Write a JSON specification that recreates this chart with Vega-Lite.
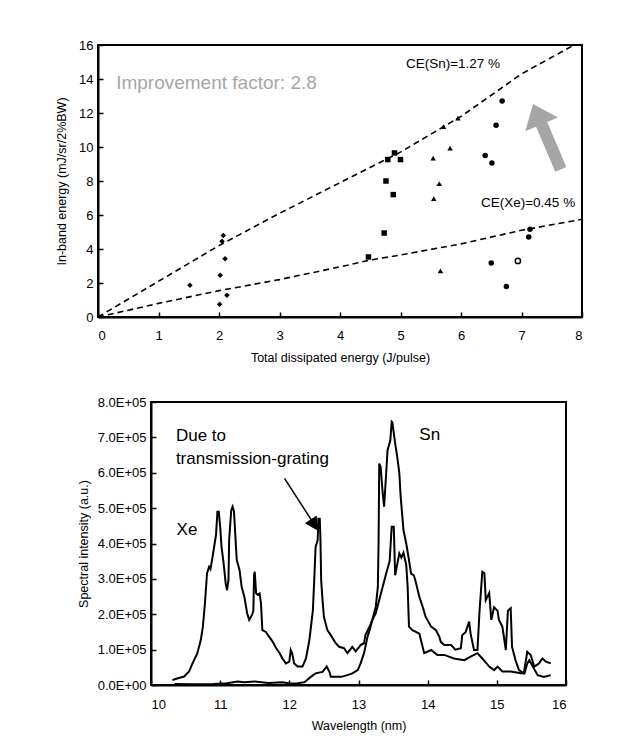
{
  "$schema": "https://vega.github.io/schema/vega-lite/v6.json",
  "background": "white",
  "padding": {"left": 54, "top": 38, "right": 5, "bottom": 5},
  "config": {
    "font": "Liberation Sans",
    "view": {"stroke": "black", "strokeWidth": 2},
    "axis": {"grid": false, "domainColor": "black", "domainWidth": 2, "tickColor": "black", "tickWidth": 1.5, "tickSize": -5, "labelColor": "black", "labelFontSize": 13, "titleFontSize": 12.5, "titleFontWeight": "normal", "titleColor": "black", "labelFont": "Liberation Sans", "titleFont": "Liberation Sans"}
  },
  "datasets": {
    "snfit": [{"x": 0, "y": 0}, {"x": 1, "y": 2.1}, {"x": 2, "y": 4.2}, {"x": 3, "y": 6.1}, {"x": 4, "y": 7.9}, {"x": 5, "y": 9.7}, {"x": 6, "y": 11.8}, {"x": 7, "y": 14.3}, {"x": 7.87, "y": 16}],
    "xefit": [{"x": 0, "y": 0}, {"x": 1, "y": 0.8}, {"x": 2, "y": 1.55}, {"x": 3, "y": 2.2}, {"x": 4, "y": 2.95}, {"x": 4.5, "y": 3.35}, {"x": 5, "y": 3.65}, {"x": 6, "y": 4.3}, {"x": 7, "y": 5.1}, {"x": 8, "y": 5.75}],
    "pts": [
      {"x": 1.52, "y": 1.87, "s": "diamond"}, {"x": 2.02, "y": 2.45, "s": "diamond"}, {"x": 2.01, "y": 0.75, "s": "diamond"}, {"x": 2.13, "y": 1.28, "s": "diamond"}, {"x": 2.1, "y": 3.43, "s": "diamond"}, {"x": 2.07, "y": 4.8, "s": "diamond"}, {"x": 2.05, "y": 4.45, "s": "diamond"},
      {"x": 4.73, "y": 4.94, "s": "square"}, {"x": 4.9, "y": 9.65, "s": "square"}, {"x": 4.76, "y": 8.0, "s": "square"}, {"x": 4.79, "y": 9.26, "s": "square"}, {"x": 5.0, "y": 9.26, "s": "square"}, {"x": 4.88, "y": 7.2, "s": "square"}, {"x": 4.47, "y": 3.53, "s": "square"},
      {"x": 5.55, "y": 6.96, "s": "triangle-up"}, {"x": 5.64, "y": 7.85, "s": "triangle-up"}, {"x": 5.54, "y": 9.35, "s": "triangle-up"}, {"x": 5.82, "y": 9.94, "s": "triangle-up"}, {"x": 5.71, "y": 11.2, "s": "triangle-up"}, {"x": 5.95, "y": 11.7, "s": "triangle-up"}, {"x": 5.66, "y": 2.71, "s": "triangle-up"},
      {"x": 6.68, "y": 12.7, "s": "circle"}, {"x": 6.58, "y": 11.28, "s": "circle"}, {"x": 6.4, "y": 9.5, "s": "circle"}, {"x": 6.51, "y": 9.06, "s": "circle"}, {"x": 6.5, "y": 3.18, "s": "circle"}, {"x": 6.75, "y": 1.8, "s": "circle"}, {"x": 7.14, "y": 5.16, "s": "circle"}, {"x": 7.12, "y": 4.7, "s": "circle"}
    ],
    "xe": [
      {"w": 10.31, "i": 14000}, {"w": 10.39, "i": 19000}, {"w": 10.48, "i": 24000}, {"w": 10.55, "i": 38000}, {"w": 10.6, "i": 61000}, {"w": 10.67, "i": 90000}, {"w": 10.72, "i": 127000}, {"w": 10.75, "i": 165000}, {"w": 10.78, "i": 231000}, {"w": 10.81, "i": 316000}, {"w": 10.84, "i": 334000}, {"w": 10.86, "i": 328000}, {"w": 10.89, "i": 362000}, {"w": 10.92, "i": 400000}, {"w": 10.94, "i": 424000}, {"w": 10.96, "i": 490000}, {"w": 10.98, "i": 490000}, {"w": 11.0, "i": 447000}, {"w": 11.02, "i": 390000}, {"w": 11.05, "i": 344000}, {"w": 11.08, "i": 287000}, {"w": 11.1, "i": 268000}, {"w": 11.12, "i": 297000}, {"w": 11.13, "i": 410000}, {"w": 11.16, "i": 494000}, {"w": 11.18, "i": 504000}, {"w": 11.2, "i": 490000}, {"w": 11.22, "i": 419000}, {"w": 11.24, "i": 353000}, {"w": 11.28, "i": 325000}, {"w": 11.31, "i": 278000}, {"w": 11.35, "i": 249000}, {"w": 11.39, "i": 203000}, {"w": 11.42, "i": 184000}, {"w": 11.46, "i": 198000}, {"w": 11.48, "i": 210000}, {"w": 11.49, "i": 310000}, {"w": 11.5, "i": 320000}, {"w": 11.52, "i": 259000}, {"w": 11.54, "i": 255000}, {"w": 11.57, "i": 259000}, {"w": 11.59, "i": 231000}, {"w": 11.61, "i": 155000}, {"w": 11.66, "i": 150000}, {"w": 11.71, "i": 136000}, {"w": 11.76, "i": 122000}, {"w": 11.81, "i": 104000}, {"w": 11.86, "i": 90000}, {"w": 11.9, "i": 75000}, {"w": 11.95, "i": 61000}, {"w": 12.0, "i": 66000}, {"w": 12.02, "i": 99000}, {"w": 12.04, "i": 90000}, {"w": 12.07, "i": 61000}, {"w": 12.12, "i": 52000}, {"w": 12.19, "i": 52000}, {"w": 12.24, "i": 75000}, {"w": 12.29, "i": 127000}, {"w": 12.34, "i": 210000}, {"w": 12.36, "i": 297000}, {"w": 12.38, "i": 390000}, {"w": 12.41, "i": 410000}, {"w": 12.42, "i": 470000}, {"w": 12.44, "i": 470000}, {"w": 12.45, "i": 410000}, {"w": 12.46, "i": 297000}, {"w": 12.48, "i": 240000}, {"w": 12.5, "i": 193000}, {"w": 12.55, "i": 155000}, {"w": 12.6, "i": 141000}, {"w": 12.67, "i": 118000}, {"w": 12.72, "i": 108000}, {"w": 12.79, "i": 104000}, {"w": 12.84, "i": 90000}, {"w": 12.91, "i": 108000}, {"w": 12.96, "i": 95000}, {"w": 13.03, "i": 113000}, {"w": 13.08, "i": 118000}, {"w": 13.1, "i": 141000}, {"w": 13.16, "i": 165000}, {"w": 13.2, "i": 184000}, {"w": 13.25, "i": 203000}, {"w": 13.3, "i": 240000}, {"w": 13.35, "i": 278000}, {"w": 13.4, "i": 315000}, {"w": 13.45, "i": 350000}, {"w": 13.48, "i": 447000}, {"w": 13.51, "i": 447000}, {"w": 13.53, "i": 310000}, {"w": 13.59, "i": 372000}, {"w": 13.62, "i": 360000}, {"w": 13.65, "i": 374000}, {"w": 13.69, "i": 340000}, {"w": 13.71, "i": 280000}, {"w": 13.73, "i": 165000}, {"w": 13.78, "i": 155000}, {"w": 13.88, "i": 145000}, {"w": 13.95, "i": 90000}, {"w": 14.05, "i": 99000}, {"w": 14.14, "i": 85000}, {"w": 14.24, "i": 85000}, {"w": 14.38, "i": 75000}, {"w": 14.53, "i": 70000}, {"w": 14.62, "i": 80000}, {"w": 14.72, "i": 90000}, {"w": 14.79, "i": 75000}, {"w": 14.89, "i": 52000}, {"w": 14.96, "i": 42000}, {"w": 15.01, "i": 52000}, {"w": 15.08, "i": 38000}, {"w": 15.2, "i": 38000}, {"w": 15.35, "i": 33000}, {"w": 15.4, "i": 33000}, {"w": 15.44, "i": 61000}, {"w": 15.47, "i": 70000}, {"w": 15.52, "i": 52000}, {"w": 15.59, "i": 28000}, {"w": 15.68, "i": 23000}, {"w": 15.78, "i": 28000}
    ],
    "sn": [
      {"w": 10.34, "i": 3000}, {"w": 10.6, "i": 2000}, {"w": 10.9, "i": 3000}, {"w": 11.1, "i": 5000}, {"w": 11.25, "i": 10000}, {"w": 11.35, "i": 8000}, {"w": 11.5, "i": 10000}, {"w": 11.7, "i": 6000}, {"w": 11.9, "i": 8000}, {"w": 12.0, "i": 4000}, {"w": 12.12, "i": 5000}, {"w": 12.22, "i": 8000}, {"w": 12.31, "i": 23000}, {"w": 12.38, "i": 33000}, {"w": 12.48, "i": 37000}, {"w": 12.54, "i": 52000}, {"w": 12.58, "i": 37000}, {"w": 12.6, "i": 23000}, {"w": 12.75, "i": 23000}, {"w": 12.84, "i": 28000}, {"w": 12.91, "i": 33000}, {"w": 12.99, "i": 42000}, {"w": 13.03, "i": 61000}, {"w": 13.08, "i": 90000}, {"w": 13.13, "i": 136000}, {"w": 13.16, "i": 155000}, {"w": 13.2, "i": 184000}, {"w": 13.25, "i": 222000}, {"w": 13.28, "i": 278000}, {"w": 13.29, "i": 400000}, {"w": 13.3, "i": 626000}, {"w": 13.32, "i": 617000}, {"w": 13.35, "i": 542000}, {"w": 13.37, "i": 504000}, {"w": 13.4, "i": 598000}, {"w": 13.42, "i": 664000}, {"w": 13.46, "i": 692000}, {"w": 13.48, "i": 744000}, {"w": 13.49, "i": 742000}, {"w": 13.53, "i": 683000}, {"w": 13.56, "i": 645000}, {"w": 13.59, "i": 600000}, {"w": 13.61, "i": 532000}, {"w": 13.65, "i": 438000}, {"w": 13.69, "i": 400000}, {"w": 13.73, "i": 353000}, {"w": 13.76, "i": 315000}, {"w": 13.8, "i": 310000}, {"w": 13.83, "i": 290000}, {"w": 13.88, "i": 249000}, {"w": 13.93, "i": 220000}, {"w": 13.97, "i": 193000}, {"w": 14.05, "i": 165000}, {"w": 14.12, "i": 155000}, {"w": 14.17, "i": 136000}, {"w": 14.19, "i": 122000}, {"w": 14.24, "i": 113000}, {"w": 14.34, "i": 113000}, {"w": 14.4, "i": 100000}, {"w": 14.48, "i": 104000}, {"w": 14.5, "i": 141000}, {"w": 14.55, "i": 150000}, {"w": 14.6, "i": 179000}, {"w": 14.62, "i": 146000}, {"w": 14.67, "i": 99000}, {"w": 14.72, "i": 99000}, {"w": 14.75, "i": 210000}, {"w": 14.79, "i": 320000}, {"w": 14.82, "i": 316000}, {"w": 14.84, "i": 240000}, {"w": 14.89, "i": 260000}, {"w": 14.92, "i": 184000}, {"w": 14.96, "i": 220000}, {"w": 15.01, "i": 210000}, {"w": 15.03, "i": 184000}, {"w": 15.08, "i": 165000}, {"w": 15.13, "i": 99000}, {"w": 15.16, "i": 210000}, {"w": 15.2, "i": 217000}, {"w": 15.22, "i": 108000}, {"w": 15.27, "i": 70000}, {"w": 15.32, "i": 42000}, {"w": 15.39, "i": 33000}, {"w": 15.44, "i": 94000}, {"w": 15.49, "i": 85000}, {"w": 15.54, "i": 52000}, {"w": 15.61, "i": 61000}, {"w": 15.66, "i": 75000}, {"w": 15.71, "i": 66000}, {"w": 15.78, "i": 61000}
    ]
  },
  "spacing": 30,
  "vconcat": [
    {
      "spacing": 0,
      "hconcat": [
        {
          "width": 484,
          "height": 272,
          "encoding": {
            "x": {"field": "x", "type": "quantitative", "scale": {"domain": [0, 8], "nice": false}, "axis": {"title": "Total dissipated energy (J/pulse)", "values": [0, 1, 2, 3, 4, 5, 6, 7, 8], "format": "d", "labelPadding": 17, "titlePadding": 9}},
            "y": {"field": "y", "type": "quantitative", "scale": {"domain": [0, 16], "nice": false}, "axis": {"title": "In-band energy (mJ/sr/2%BW)", "values": [0, 2, 4, 6, 8, 10, 12, 14, 16], "format": "d", "labelPadding": 10, "titlePadding": 10}}
          },
          "layer": [
            {
              "data": {"name": "snfit"},
              "mark": {"type": "line", "color": "black", "strokeWidth": 1.6, "strokeDash": [6, 4], "clip": true}
            },
            {
              "data": {"name": "xefit"},
              "mark": {"type": "line", "color": "black", "strokeWidth": 1.6, "strokeDash": [6, 4], "clip": true}
            },
            {
              "data": {"name": "pts"},
              "mark": {"type": "point", "filled": true, "color": "black", "size": 30, "opacity": 1},
              "encoding": {
                "shape": {"field": "s", "type": "nominal", "scale": {"domain": ["diamond", "square", "triangle-up", "circle"], "range": ["diamond", "square", "triangle-up", "circle"]}, "legend": null}
              }
            },
            {
              "data": {"values": [{"x": 6.94, "y": 3.3}]},
              "mark": {"type": "point", "filled": false, "color": "black", "size": 28, "strokeWidth": 1.5, "opacity": 1}
            },
            {
              "data": {"values": [{"x": 7.42, "y": 10.6}]},
              "mark": {"type": "point", "shape": "M0,-1 L0.5,-0.38 L0.17,-0.38 L0.17,1 L-0.17,1 L-0.17,-0.38 L-0.5,-0.38 Z", "angle": -23, "size": 5041, "filled": true, "color": "#a6a6a6", "opacity": 1, "strokeWidth": 0}
            },
            {
              "data": {"values": [{"x": 0.3, "y": 13.75, "label": "Improvement factor: 2.8"}]},
              "mark": {"type": "text", "align": "left", "baseline": "middle", "fontSize": 19, "color": "#a6a6a6"},
              "encoding": {"text": {"field": "label"}}
            },
            {
              "data": {"values": [{"x": 5.09, "y": 14.9, "label": "CE(Sn)=1.27 %"}, {"x": 6.33, "y": 6.69, "label": "CE(Xe)=0.45 %"}]},
              "mark": {"type": "text", "align": "left", "baseline": "middle", "fontSize": 13.5, "color": "black"},
              "encoding": {"text": {"field": "label"}}
            }
          ]
        }
      ]
    },
    {
      "spacing": 0,
      "bounds": "flush",
      "hconcat": [
        {
          "width": 53,
          "height": 283,
          "view": {"stroke": null},
          "data": {"values": []},
          "mark": "point",
          "encoding": {}
        },
        {
          "width": 415,
          "height": 283,
          "encoding": {
            "x": {"field": "w", "type": "quantitative", "scale": {"domain": [10, 16], "nice": false}, "axis": {"title": "Wavelength (nm)", "values": [10, 11, 12, 13, 14, 15, 16], "format": "d", "labelPadding": 18, "titlePadding": 8}},
            "y": {"field": "i", "type": "quantitative", "scale": {"domain": [0, 800000], "nice": false}, "axis": {"title": "Spectral intensity (a.u.)", "values": [0, 100000, 200000, 300000, 400000, 500000, 600000, 700000, 800000], "labelExpr": "datum.value == 0 ? '0.0E+00' : format(datum.value / 100000, '.1f') + 'E+05'", "labelPadding": 10, "titlePadding": 7}}
          },
          "layer": [
            {
              "data": {"name": "xe"},
              "mark": {"type": "line", "color": "black", "strokeWidth": 2}
            },
            {
              "data": {"name": "sn"},
              "mark": {"type": "line", "color": "black", "strokeWidth": 2}
            },
            {
              "data": {"values": [{"w": 11.93, "i": 584000, "w2": 12.39, "i2": 445000}]},
              "mark": {"type": "rule", "color": "black", "strokeWidth": 1.5},
              "encoding": {
                "x2": {"field": "w2"},
                "y2": {"field": "i2"}
              }
            },
            {
              "data": {"values": [{"w": 12.42, "i": 435000}]},
              "mark": {"type": "point", "shape": "M0,0 L-0.5,-1 L0.5,-1 Z", "angle": -33, "size": 784, "filled": true, "color": "black", "opacity": 1, "strokeWidth": 0}
            },
            {
              "data": {"values": [{"w": 10.36, "i": 703000, "label": "Due to"}, {"w": 10.36, "i": 640000, "label": "transmission-grating"}, {"w": 10.37, "i": 438000, "label": "Xe"}, {"w": 13.88, "i": 706000, "label": "Sn"}]},
              "mark": {"type": "text", "align": "left", "baseline": "middle", "fontSize": 17, "color": "black"},
              "encoding": {"text": {"field": "label"}}
            }
          ]
        }
      ]
    }
  ]
}
